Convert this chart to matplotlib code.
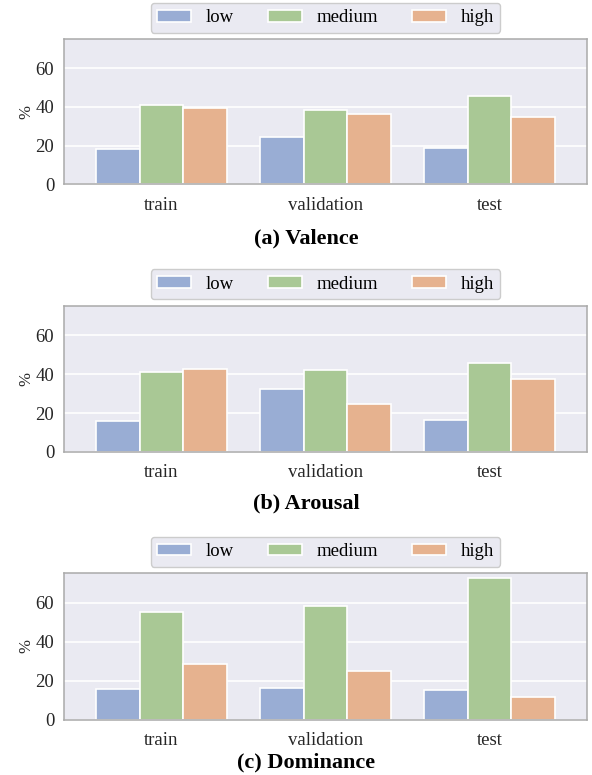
import matplotlib
matplotlib.use('Agg')
import matplotlib.pyplot as plt
import numpy as np

splits = ['train', 'validation', 'test']
levels = ['low', 'medium', 'high']

valence_low = [18.3, 24.5, 18.9]
valence_medium = [41.0, 38.3, 45.5]
valence_high = [39.3, 36.5, 34.8]

arousal_low = [16.0, 32.3, 16.5]
arousal_medium = [40.9, 42.0, 45.6]
arousal_high = [42.5, 24.9, 37.3]

dominance_low = [15.8, 16.1, 15.3]
dominance_medium = [55.2, 58.3, 72.5]
dominance_high = [28.3, 24.9, 11.5]

captions = ['(a) Valence', '(b) Arousal', '(c) Dominance']

colors = ['#99add4', '#a9c895', '#e6b28f']

plt.rcParams['font.family'] = ['Liberation Serif', 'DejaVu Serif']

fig = plt.figure(figsize=(5.92, 7.75), dpi=100)

panels = [
    (valence_low, valence_medium, valence_high),
    (arousal_low, arousal_medium, arousal_high),
    (dominance_low, dominance_medium, dominance_high),
]
# axes boxes in figure fraction: left, bottom, width, height
boxes = [
    (0.1081, 0.7622, 0.8834, 0.1871),
    (0.1081, 0.4168, 0.8834, 0.1884),
    (0.1081, 0.0714, 0.8834, 0.1889),
]
caption_y = [1 - 238 / 775, 1 - 503 / 775, 1 - 762 / 775]

x = np.arange(len(splits))
w = 0.8 / 3

for k, (data, box) in enumerate(zip(panels, boxes)):
    ax = fig.add_axes(box)
    ax.set_facecolor('#eaeaf2')
    ax.set_axisbelow(True)
    ax.yaxis.grid(True, color='white', linewidth=1.2)
    for i, vals in enumerate(data):
        ax.bar(x + (i - 1) * w, vals, width=w, color=colors[i],
               edgecolor='white', linewidth=1.2, label=levels[i])
    ax.set_xlim(-0.595, 2.595)
    ax.set_ylim(0, 75)
    ax.set_yticks([0, 20, 40, 60])
    ax.set_xticks(x)
    ax.set_xticklabels(splits)
    ax.tick_params(axis='both', length=0, labelsize=13.5, colors='#262626')
    ax.tick_params(axis='y', pad=7)
    ax.tick_params(axis='x', pad=9)
    ax.set_ylabel('%', fontsize=12, color='#262626', labelpad=1)
    for s in ax.spines.values():
        s.set_color('#aaaaaa')
        s.set_linewidth(1.1)
    leg = ax.legend(loc='lower center', bbox_to_anchor=(0.5, 1.045), ncol=3,
                    frameon=True, fontsize=13.5, borderaxespad=0,
                    handlelength=1.8, handleheight=0.6, handletextpad=0.8,
                    columnspacing=1.8, borderpad=0.35, fancybox=True)
    leg.get_frame().set_facecolor('#eaeaf2')
    leg.get_frame().set_edgecolor('#cccccc')
    leg.get_frame().set_alpha(1)
    fig.text(306 / 592, caption_y[k], captions[k], ha='center', va='center',
             fontsize=16, fontweight='bold', color='black')

fig.savefig('out.png', dpi=100)
